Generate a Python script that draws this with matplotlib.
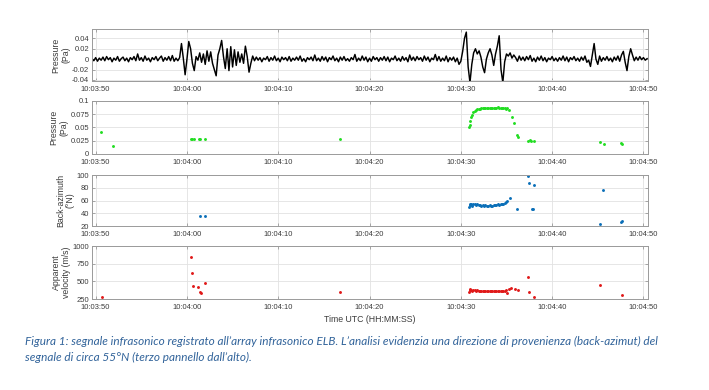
import numpy as np
import matplotlib
matplotlib.use("Agg")
import matplotlib.pyplot as plt

# ---------------- data ----------------
# time axis: seconds after 10:03:50 UTC
tick_seconds = [0, 10, 20, 30, 40, 50, 60]
tick_labels = ["10:03:50", "10:04:00", "10:04:10", "10:04:20", "10:04:30", "10:04:40", "10:04:50"]

# top panel: pressure waveform (mPa), sampled every 0.2 s starting at t = -0.4 s
wave_t0 = -0.4
wave_dt = 0.2
wave_mpa = [
    1, -3,
    3, -4, 2, -2, 4,   -3, 5, -1, 3, -5,   2, -2, 5, -4, 1,   4, -3, 2, -5, 3,
    -1, 5, -3, 10, -2,   3, -4, 6, -2, 2,   -5, 3, -1, 5, -3,   2, 6, -4, 3, -2,
    5, -3, 7, -4, 2,   -3, 3, 30, 2, -30,   0, 34, 20, -8, -22,   5, -2, 12, -6, 10,
    -10, 16, -4, 14, -8,   -20, -32, 8, 20, 36,   5, -18, 20, -22, 24,   -15, 18, -12, 14, -6,
    10, -8, 25, 5, -25,   -8, 6, -3, 4, -2,
    3, -5, 2, -1, 5,   -4, 3, -2, 6, -3,   2, -5, 4, -1, 3,   -3, 5, -4, 2, -2,
    4, -2, 6, -4, 1,   -5, 3, -1, 4, -3,   8, -3, 2, -4, 5,   -2, 4, -5, 3, -1,
    6, -3, 2, -5, 4,   -2, 5, -3, 1, -4,   3, -1, 9, -4, 2,   -3, 6, -2, 4, -5,
    2, -4, 5, -1, 3,   -4, 3, -2, 5, -3,   4, -5, 2, -1, 6,   -3, 2, -4, 5, -2,
    3, -5, 8, -2, 4,   -3, 5, -1, 3, -4,   6, -2, 4, -5, 2,   -1, 9, -3, 5, -4,
    2, -3, 6, -5, 3,   -2, 4, -5, 2, -10,
    -4, 15, 40, 52, -15,   -45, -10, 12, 20, 10,   16, 4, -15, -26, 0,   12, 20, 8, -12, 10,
    25, 45, -20, -45, -5,   10, 6, 12, 2, 8,
    3, -4, 6, -2, 4,   -3, 5, -1, 7, -4,   2, -5, 4, -2, 6,   -3, 3, -5, 2, -1,
    5, -3, 2, -4, 3,   -2, 6, -3, 4, -5,   3, -1, 5, -3, 2,   -4, 4, -2, 6, -6,
    -2, -14, 8, 30, 0,   -10, 6, -4, 3, -2,   5, -3, 2, -5, 4,   -2, 6, -4, 8, 15,
    -6, -22, 5, 20, 8,   -3, 4, -2, 5, -1,
    3, -2, 1,
]

# second panel: detection pressure (Pa)
p_t = [0.6, 1.9, 10.44, 10.6, 10.8, 11.27, 11.45, 12.0, 26.8,
       40.85, 40.95, 41.05, 41.15, 41.25, 41.35, 41.5, 41.65, 41.8, 41.95, 42.1, 42.25,
       42.4, 42.55, 42.7, 42.85, 43.0, 43.15, 43.3, 43.45, 43.6, 43.75, 43.9, 44.05,
       44.2, 44.35, 44.5, 44.65, 44.8, 44.95, 45.1,
       45.3, 45.6, 45.77, 46.1, 46.29, 47.4, 47.55, 47.7, 48.04, 55.27, 55.7, 57.5, 57.6]
p_val = [0.042, 0.015, 0.029, 0.028, 0.028, 0.028, 0.028, 0.029, 0.029,
         0.050, 0.055, 0.062, 0.069, 0.074, 0.078, 0.081, 0.083, 0.084, 0.085, 0.085, 0.086,
         0.086, 0.086, 0.086, 0.086, 0.086, 0.087, 0.087, 0.087, 0.087, 0.087, 0.087, 0.088,
         0.087, 0.087, 0.086, 0.087, 0.086, 0.085, 0.086,
         0.083, 0.070, 0.058, 0.035, 0.032, 0.025, 0.026, 0.025, 0.025, 0.022, 0.019, 0.020, 0.018]

# third panel: back-azimuth (deg N)
baz_t = [11.46, 12.0,
         40.85, 40.95, 41.05, 41.15, 41.25, 41.35, 41.5, 41.65, 41.8, 41.95, 42.1, 42.25,
         42.4, 42.55, 42.7, 42.85, 43.0, 43.15, 43.3, 43.45, 43.6, 43.75, 43.9, 44.05,
         44.2, 44.35, 44.5, 44.65, 44.8, 44.95, 45.1,
         45.4, 46.2, 47.4, 47.5, 47.8, 47.9, 48.0, 55.27, 55.6, 57.5, 57.6]
baz_val = [36, 35,
           50, 55, 53, 54, 52, 55, 54, 53, 54, 53, 53, 52,
           53, 52, 53, 52, 52, 53, 52, 52, 53, 53, 53, 54,
           53, 54, 55, 55, 56, 57, 59,
           64, 46, 99, 87, 46, 46, 85, 22.6, 76, 26, 28]

# bottom panel: apparent velocity (m/s)
vel_t = [0.65, 10.44, 10.5, 10.7, 11.2, 11.4, 11.5, 12.0, 26.8,
         40.85, 40.95, 41.05, 41.15, 41.25, 41.35, 41.5, 41.65, 41.8, 41.95, 42.1, 42.25,
         42.4, 42.55, 42.7, 42.85, 43.0, 43.15, 43.3, 43.45, 43.6, 43.75, 43.9, 44.05,
         44.2, 44.35, 44.5, 44.65, 44.8, 44.95, 45.1,
         45.3, 45.5, 45.9, 46.3, 47.4, 47.5, 48.04, 55.27, 57.6]
vel_val = [274, 843, 620, 440, 416, 345, 335, 477, 350,
           345, 390, 372, 378, 368, 372, 375, 370, 372, 369, 368, 370,
           368, 367, 369, 368, 365, 367, 366, 368, 365, 367, 363, 365,
           368, 364, 366, 362, 368, 372, 335,
           395, 400, 388, 378, 563, 345, 274, 453, 311]

# ---------------- figure ----------------
plt.rcParams['font.family'] = ['Liberation Sans', 'DejaVu Sans']
fig = plt.figure(figsize=(7.09, 3.90), dpi=100)

W, H = 709.0, 390.0
left_px, right_px = 92, 648
panels_px = [(29, 81), (100.7, 154), (175, 226), (246.3, 299)]

spine_c = '#9a9a9a'
text_c = '#3c3c3c'
grid_c = '#e2e2e2'

axes = []
for top, bot in panels_px:
    ax = fig.add_axes([left_px / W, 1 - bot / H, (right_px - left_px) / W, (bot - top) / H])
    axes.append(ax)

ylims = [(-0.042, 0.058), (0, 0.1), (20, 100), (250, 1000)]
yticks = [[-0.04, -0.02, 0, 0.02, 0.04], [0, 0.025, 0.05, 0.075, 0.1],
          [20, 40, 60, 80, 100], [250, 500, 750, 1000]]
ytick_labels = [["-0.04", "-0.02", "0", "0.02", "0.04"], ["0", "0.025", "0.05", "0.075", "0.1"],
                ["20", "40", "60", "80", "100"], ["250", "500", "750", "1000"]]
ylabels = ["Pressure\n(Pa)", "Pressure\n(Pa)", "Back-azimuth\n(°N)", "Apparent\nvelocity (m/s)"]

for ax, yl, yt, ytl, ylab in zip(axes, ylims, yticks, ytick_labels, ylabels):
    ax.set_xlim(-0.4, 60.5)
    ax.set_ylim(*yl)
    ax.set_xticks(tick_seconds)
    ax.set_xticklabels(tick_labels)
    ax.set_yticks(yt)
    ax.set_yticklabels(ytl)
    ax.grid(True, color=grid_c, linewidth=0.6)
    ax.set_axisbelow(True)
    for s in ax.spines.values():
        s.set_color(spine_c)
        s.set_linewidth(0.7)
    ax.tick_params(direction='in', length=2.5, width=0.6, color=spine_c,
                   labelsize=5.5, labelcolor=text_c, top=True, right=True)
    ax.tick_params(axis='x', pad=3.5)
    ax.tick_params(axis='y', pad=2)
    ax.set_ylabel(ylab, fontsize=6.3, color=text_c, labelpad=1.5, linespacing=1.1)

# waveform
wave = np.array(wave_mpa) / 1000.0
wave_time = wave_t0 + wave_dt * np.arange(len(wave))
axes[0].plot(wave_time, wave, color='black', linewidth=1.05)

axes[1].plot(p_t, p_val, linestyle='none', marker='o', markersize=2.1,
             color='#22dd22', markeredgewidth=0)
axes[2].plot(baz_t, baz_val, linestyle='none', marker='o', markersize=2.1,
             color='#0a6fb8', markeredgewidth=0)
axes[3].plot(vel_t, vel_val, linestyle='none', marker='o', markersize=2.1,
             color='#e01818', markeredgewidth=0)

fig.text(370 / W, 1 - 319 / H, "Time UTC (HH:MM:SS)", ha='center', va='center',
         fontsize=6.3, color=text_c)

cap_c = '#31639a'
fig.text(25 / W, 1 - 341 / H,
         "Figura 1: segnale infrasonico registrato all’array infrasonico ELB. L’analisi evidenzia una direzione di provenienza (back-azimut) del",
         ha='left', va='center', fontsize=8.5, style='italic', color=cap_c, family='Lato')
fig.text(25 / W, 1 - 357 / H,
         "segnale di circa 55°N (terzo pannello dall’alto).",
         ha='left', va='center', fontsize=8.5, style='italic', color=cap_c, family='Lato')

fig.savefig("out.png", dpi=100)
